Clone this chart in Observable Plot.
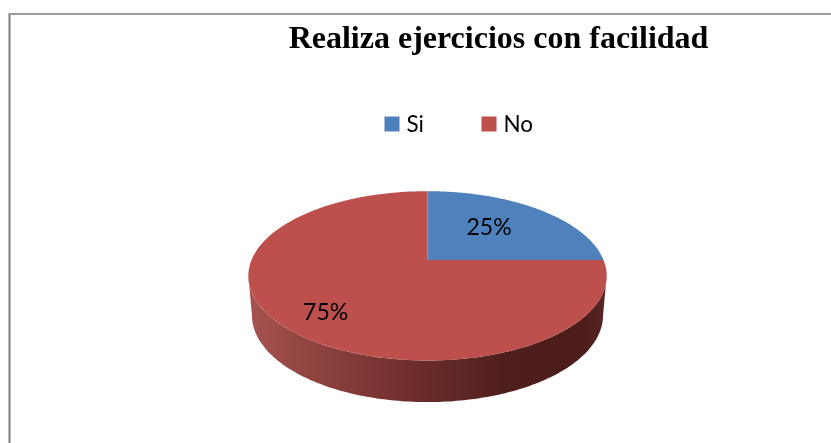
<!DOCTYPE html>
<html>
<head>
<meta charset="utf-8">
<script src="https://cdn.jsdelivr.net/npm/d3@7"></script>
<script src="https://cdn.jsdelivr.net/npm/@observablehq/plot@0.6"></script>
<style>
html,body{margin:0;padding:0;background:#fff;overflow:hidden}
svg{display:block;filter:blur(0.35px)}
</style>
</head>
<body>
<div id="chart"></div>
<script>
const titleText = "Realiza ejercicios con facilidad";
const categories = ["Si", "No"];
const shares = [25, 75];
const sliceColors = ["#4f81bd", "#bd4f4c"];
const sideStops = [
  [0, "#a65350"], [0.22, "#8b403d"], [0.48, "#6b2c2a"],
  [0.72, "#4f1f1d"], [0.93, "#4a1c1a"], [1, "#5a2725"]
];
const labelPlacement = [{pull: 0.56, dy: -4}, {pull: 0.71, dy: 5}];

// Pie seen in perspective: a unit circle through a projective map.
const tilt = 0.187;
const project = (t) => {
  const u = Math.cos(t), v = Math.sin(t), w = 1 - tilt * v;
  return {x: u / w, y: v / w};
};
const arcPoints = (a0, a1, n = 160) =>
  d3.range(n + 1).map((i) => project(a0 + (a1 - a0) * i / n));

// Slices, clockwise from twelve o'clock.
const total = d3.sum(shares);
let running = 0;
const slices = categories.map((name, i) => {
  const a0 = -Math.PI / 2 + 2 * Math.PI * running / total;
  running += shares[i];
  const a1 = -Math.PI / 2 + 2 * Math.PI * running / total;
  return {name, share: shares[i], color: sliceColors[i], a0, a1,
          points: [{x: 0, y: 0}, ...arcPoints(a0, a1)]};
});

// Rim: front of the top ellipse down to a slightly narrower base ellipse.
const t0 = Math.asin(tilt);
const front = arcPoints(t0, Math.PI - t0);
const base = front.map((p) => ({x: p.x * 0.98, y: p.y * 1.026 + 0.477})).reverse();
const rim = [...front, ...base];

const gradient = () => {
  const defs = d3.create("svg:defs");
  const g = defs.append("linearGradient").attr("id", "rimShade")
    .attr("x1", 0).attr("x2", 1).attr("y1", 0).attr("y2", 0);
  g.selectAll("stop").data(sideStops).join("stop")
    .attr("offset", (d) => d[0]).attr("stop-color", (d) => d[1]);
  return defs.node();
};

const serif = "'Liberation Serif','Times New Roman',serif";
const sans = "Lato,'Open Sans',sans-serif";
const frameInset = {insetLeft: 9, insetTop: 13.5};

const legendMarks = categories.flatMap((name, i) => {
  const left = [384, 481][i];
  return [
    Plot.dot([name], {frameAnchor: "top-left", dx: left + 7.5, dy: 123.5, symbol: "square",
      r: 8.46, fill: sliceColors[i], stroke: "none"}),
    Plot.text([name], {frameAnchor: "top-left", dx: left + 22, dy: 124.5, textAnchor: "start",
      lineAnchor: "middle", fontFamily: sans, fontSize: 22.5, fill: "#000"})
  ];
});

const chart = Plot.plot({
  width: 831, height: 443,
  margin: 0,
  style: {background: "#fff", overflow: "hidden"},
  x: {domain: [-1, 1], range: [427 - 176, 427 + 176], axis: null},
  y: {domain: [-1, 1], range: [259.5 - 81.7, 259.5 + 81.7], axis: null},
  marks: [
    gradient,
    Plot.frame({anchor: "left", stroke: "#808080", strokeWidth: 2, ...frameInset}),
    Plot.frame({anchor: "top", stroke: "#9a9a9a", strokeWidth: 2, ...frameInset}),
    Plot.line(rim, {x: "x", y: "y", fill: "url(#rimShade)", stroke: "none"}),
    ...slices.map((s) => Plot.line(s.points, {x: "x", y: "y", fill: s.color, stroke: "none"})),
    ...slices.map((s, i) => {
      const p = project((s.a0 + s.a1) / 2), k = labelPlacement[i].pull;
      return Plot.text([s.share + "%"], {x: () => p.x * k, y: () => p.y * k, dy: labelPlacement[i].dy,
        fontFamily: sans, fontSize: 23, fill: "#000"});
    }),
    Plot.text([titleText], {frameAnchor: "top-left", dx: 498, dy: 37, textAnchor: "middle",
      lineAnchor: "middle", fontFamily: serif, fontWeight: "bold", fontSize: 32, fill: "#000"}),
    ...legendMarks
  ]
});
document.getElementById("chart").append(chart);
</script>
</body>
</html>
